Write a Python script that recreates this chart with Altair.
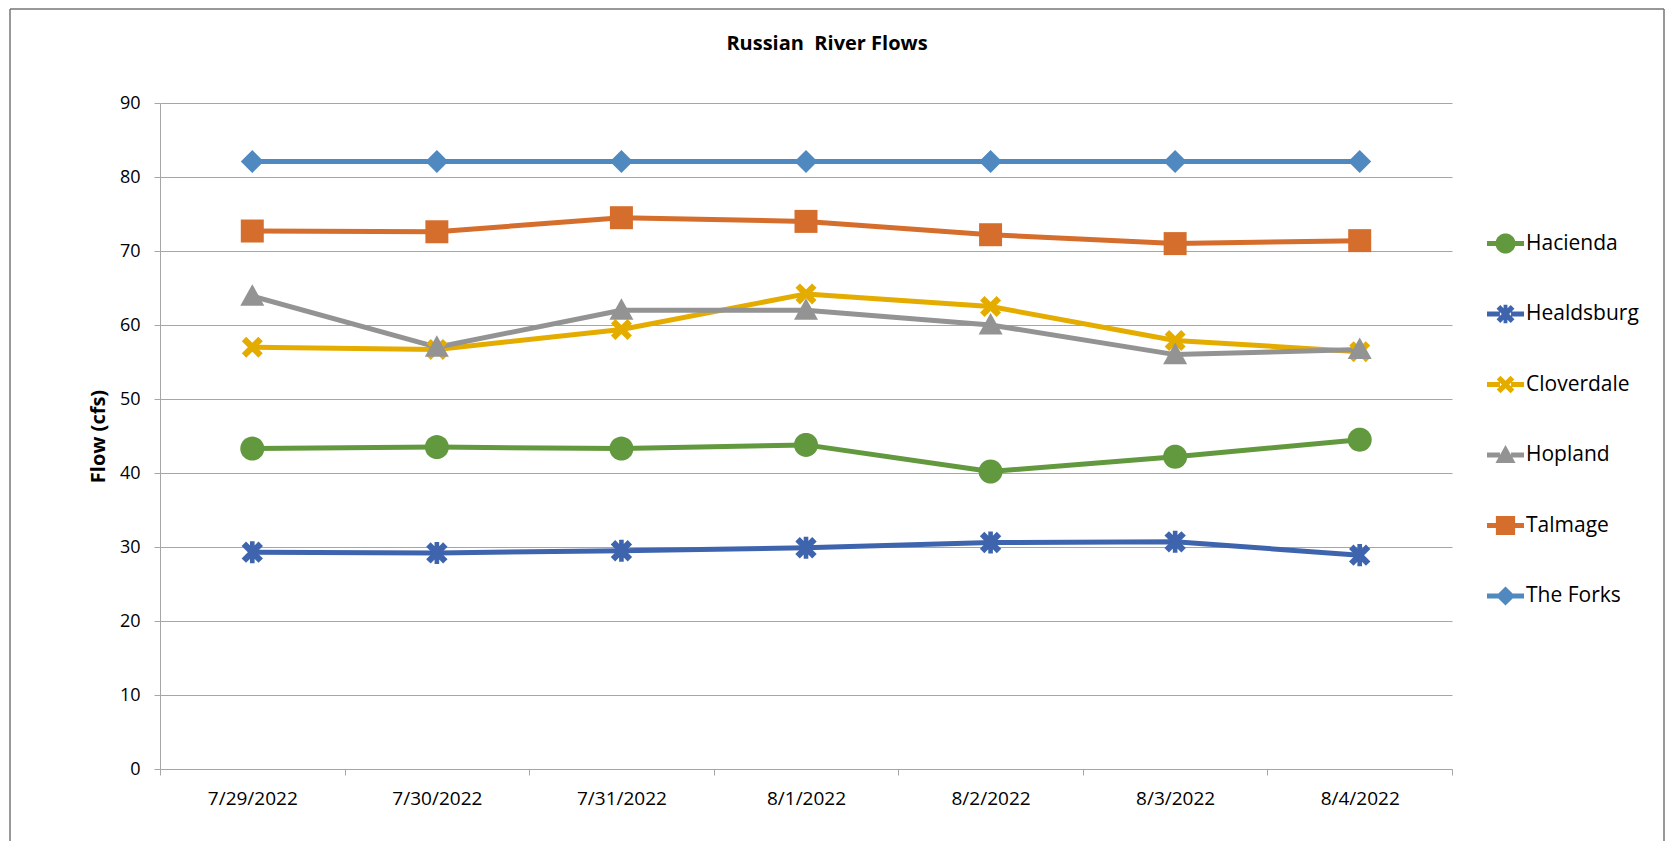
import math
import altair as alt
import pandas as pd

# ---------------- data ----------------
dates = ["7/29/2022", "7/30/2022", "7/31/2022", "8/1/2022", "8/2/2022", "8/3/2022", "8/4/2022"]
the_forks = [82.1, 82.1, 82.1, 82.1, 82.1, 82.1, 82.1]
talmage = [72.7, 72.6, 74.5, 74.0, 72.2, 71.0, 71.4]
hopland = [63.9, 57.0, 62.0, 62.0, 60.0, 56.0, 56.7]
cloverdale = [57.0, 56.7, 59.4, 64.2, 62.5, 57.9, 56.4]
healdsburg = [29.3, 29.2, 29.5, 29.9, 30.6, 30.7, 28.9]
hacienda = [43.3, 43.5, 43.3, 43.8, 40.2, 42.2, 44.5]

series_values = {
    "The Forks": the_forks,
    "Talmage": talmage,
    "Hopland": hopland,
    "Cloverdale": cloverdale,
    "Healdsburg": healdsburg,
    "Hacienda": hacienda,
}
legend_order = ["Hacienda", "Healdsburg", "Cloverdale", "Hopland", "Talmage", "The Forks"]
draw_order = ["The Forks", "Talmage", "Cloverdale", "Hopland", "Healdsburg", "Hacienda"]
y_ticks = [0, 10, 20, 30, 40, 50, 60, 70, 80, 90]

# ---------------- styles ----------------
colors = {
    "Hacienda": "#62993E",
    "Healdsburg": "#3F64AE",
    "Cloverdale": "#E5AC00",
    "Hopland": "#939393",
    "Talmage": "#D56E2C",
    "The Forks": "#4F89C0",
}
color_range = [colors[s] for s in legend_order]
FONT = "Open Sans"


def poly(pts):
    return "M" + "L".join(f"{x:.3f},{y:.3f}" for x, y in pts) + "Z"


def scale_pts(pts, k, dx=0.0):
    return [(x * k + dx, y * k) for x, y in pts]


def plus_pts(length, half):
    a, r = half, length
    return [(-a, -r), (a, -r), (a, -a), (r, -a), (r, a), (a, a), (a, r), (-a, r),
            (-a, a), (-r, a), (-r, -a), (-a, -a)]


def rot45(pts):
    c = 1 / math.sqrt(2)
    return [((x - y) * c, (x + y) * c) for x, y in pts]


circle = [(math.cos(2 * math.pi * i / 40), math.sin(2 * math.pi * i / 40)) for i in range(40)]
square = [(-1, -1), (1, -1), (1, 1), (-1, 1)]
diamond = [(0, -1), (1, 0), (0, 1), (-1, 0)]
triangle = [(0, -1), (1, 0.8), (-1, 0.8)]
xmark = rot45(plus_pts(1.114, 0.3))
star_x = rot45(plus_pts(1.14, 0.3))
star_v = [(-0.22, -1.05), (0.22, -1.05), (0.22, 1.05), (-0.22, 1.05)]

marker_parts = {
    "Hacienda": [circle],
    "Healdsburg": [star_x, star_v],
    "Cloverdale": [xmark],
    "Hopland": [triangle],
    "Talmage": [square],
    "The Forks": [diamond],
}
# relative marker extents (fraction of the 24px base)
marker_scale = {
    "Hacienda": 24 / 24,
    "Healdsburg": 21 / 24,
    "Cloverdale": 21 / 24,
    "Hopland": 24 / 24,
    "Talmage": 23 / 24,
    "The Forks": 23 / 24,
}
point_paths = [
    " ".join(poly(scale_pts(p, marker_scale[s])) for p in marker_parts[s]) for s in legend_order
]

bar_h = 0.14
left_bar = [(-1, -bar_h), (-0.3, -bar_h), (-0.3, bar_h), (-1, bar_h)]
right_bar = [(0.3, -bar_h), (1, -bar_h), (1, bar_h), (0.3, bar_h)]
legend_paths = [
    " ".join([poly(left_bar), poly(right_bar)]
             + [poly(scale_pts(p, 0.52 * marker_scale[s] * 24 / 23)) for p in marker_parts[s]])
    for s in legend_order
]

rows = []
for s in draw_order:
    for i, (d, v) in enumerate(zip(dates, series_values[s])):
        rows.append({"date": d, "series": s, "flow": v, "idx": i})
df = pd.DataFrame(rows)

PLOT_W, PLOT_H = 1292, 666

x_enc = alt.X(
    "date:O",
    sort=dates,
    scale=alt.Scale(type="band", domain=dates, paddingInner=0, paddingOuter=0),
    axis=alt.Axis(
        title=None, labelAngle=0, tickBand="extent", tickSize=6, labelPadding=14,
        domainColor="#A6A6A6", tickColor="#A6A6A6", grid=False,
        labelFont=FONT, labelFontSize=19, labelColor="#000000",
    ),
)
y_enc = alt.Y(
    "flow:Q",
    scale=alt.Scale(domain=[0, 90], nice=False, zero=True),
    axis=alt.Axis(
        values=y_ticks, title="Flow (cfs)", tickSize=6, labelPadding=14,
        domainColor="#A6A6A6", tickColor="#A6A6A6", gridColor="#A6A6A6", gridWidth=1,
        labelFont=FONT, labelFontSize=18, labelColor="#000000",
        titleFont=FONT, titleFontSize=20, titleFontWeight="bold", titleColor="#000000",
        titleX=-62, titleBaseline="middle", titleAngle=-90,
    ),
)

color_plain = alt.Color("series:N", scale=alt.Scale(domain=legend_order, range=color_range), legend=None)

legend_props = dict(
    orient="none", legendX=1327, legendY=122, title=None, symbolSize=1369,
    labelFont=FONT, labelFontSize=21, labelColor="#000000", rowPadding=41.5,
    labelOffset=2, symbolStrokeWidth=0, padding=0, symbolOpacity=1,
)

# chart-area frame (top, left, right edges; bottom edge lies below the visible page)
frame_df = pd.DataFrame({"k": [0]})
frame_style = dict(stroke="#767676", strokeWidth=1.5)
frame_top = alt.Chart(frame_df).mark_rule(**frame_style).encode(
    x=alt.value(-150), x2=alt.value(1504), y=alt.value(-94)
)
frame_left = alt.Chart(frame_df).mark_rule(**frame_style).encode(
    x=alt.value(-150), y=alt.value(-94), y2=alt.value(760)
)
frame_right = alt.Chart(frame_df).mark_rule(**frame_style).encode(
    x=alt.value(1504), y=alt.value(-94), y2=alt.value(760)
)

legend_layer = alt.Chart(df).mark_point(filled=True, opacity=0).encode(
    x=x_enc,
    y=y_enc,
    color=alt.Color("series:N", scale=alt.Scale(domain=legend_order, range=color_range),
                    legend=alt.Legend(**legend_props)),
    shape=alt.Shape("series:N", scale=alt.Scale(domain=legend_order, range=legend_paths),
                    legend=alt.Legend(**legend_props)),
)

lines = alt.Chart(df).mark_line(strokeWidth=5, strokeJoin="round").encode(
    x=x_enc,
    y=y_enc,
    color=color_plain,
    order=alt.Order("idx:Q"),
)

points = alt.Chart(df).mark_point(filled=True, size=576, opacity=1, strokeWidth=0).encode(
    x=x_enc,
    y=y_enc,
    color=color_plain,
    shape=alt.Shape("series:N", scale=alt.Scale(domain=legend_order, range=point_paths), legend=None),
)

chart = alt.layer(frame_top, frame_left, frame_right, legend_layer, lines, points).resolve_scale(
    color="independent", shape="independent"
).properties(
    width=PLOT_W,
    height=PLOT_H,
    autosize=alt.AutoSizeParams(type="none"),
    padding={"left": 152, "top": 95, "right": 214, "bottom": 72},
    title=alt.Title(
        "Russian\u00a0 River Flows", font=FONT, fontSize=20, fontWeight="bold",
        color="#000000", anchor="middle", dx=21, offset=-62, baseline="alphabetic",
    ),
    background="#FFFFFF",
).configure_view(stroke=None)

chart.save("out.html", embed_options={"renderer": "svg", "actions": False})
